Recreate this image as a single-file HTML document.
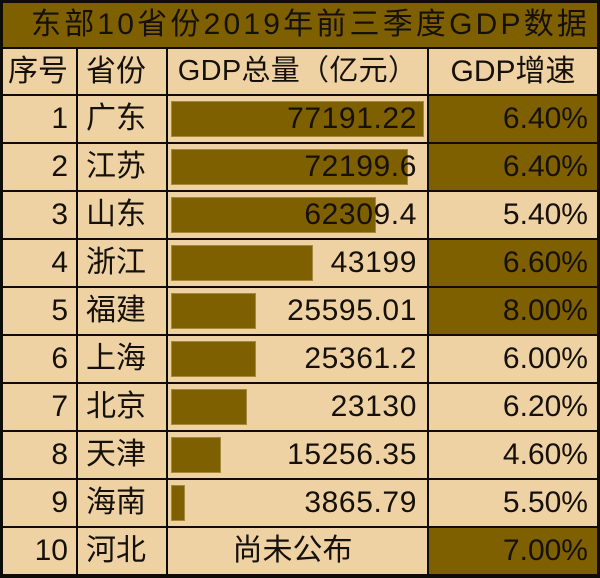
<!DOCTYPE html>
<html><head><meta charset="utf-8"><style>
*{box-sizing:border-box}
body{margin:0;width:600px;height:578px;background:#0e0c06;position:relative;overflow:hidden;font-family:"Liberation Sans","Noto Sans CJK SC",sans-serif;color:#15110a}
.c{position:absolute;background:#EFD2A4;font-size:30px;line-height:46px;white-space:nowrap;height:46px}
.d{background:#7F6000}
.c1{left:3px;width:73px;text-align:right;padding-right:8px}
.c2{left:78px;width:88px;padding-left:8px}
.c3{left:168px;width:259px;text-align:right;padding-right:10px;letter-spacing:0.6px}
.c4{left:429px;width:168px;text-align:right;padding-right:9px}
.bar{position:absolute;left:3px;top:5px;height:36px;background:#7F6000;border:1px solid #a5883f}
.n{position:relative;z-index:1}
.h{height:45px;line-height:45px}
</style></head><body>
<div class="c d" style="left:3px;top:3px;width:594px;height:44px;line-height:44px;padding-left:28px;letter-spacing:3.2px">东部10省份2019年前三季度GDP数据</div>

<div class="c c1 h" style="top:49px">序号</div>
<div class="c c2 h" style="top:49px">省份</div>
<div class="c c3 h" style="top:49px;text-align:center;padding-right:0;font-size:29px;letter-spacing:0.3px">GDP总量（亿元）</div>
<div class="c c4 h" style="top:49px;text-align:center;padding-right:0">GDP增速</div>

<div class="c c1" style="top:96px">1</div>
<div class="c c2" style="top:96px">广东</div>
<div class="c c3" style="top:96px"><div class="bar" style="width:253px"></div><span class="n">77191.22</span></div>
<div class="c c4 d" style="top:96px">6.40%</div>

<div class="c c1" style="top:144px">2</div>
<div class="c c2" style="top:144px">江苏</div>
<div class="c c3" style="top:144px"><div class="bar" style="width:237px"></div><span class="n">72199.6</span></div>
<div class="c c4 d" style="top:144px">6.40%</div>

<div class="c c1" style="top:192px">3</div>
<div class="c c2" style="top:192px">山东</div>
<div class="c c3" style="top:192px"><div class="bar" style="width:205px"></div><span class="n">62309.4</span></div>
<div class="c c4" style="top:192px">5.40%</div>

<div class="c c1" style="top:240px">4</div>
<div class="c c2" style="top:240px">浙江</div>
<div class="c c3" style="top:240px"><div class="bar" style="width:142px"></div><span class="n">43199</span></div>
<div class="c c4 d" style="top:240px">6.60%</div>

<div class="c c1" style="top:288px">5</div>
<div class="c c2" style="top:288px">福建</div>
<div class="c c3" style="top:288px"><div class="bar" style="width:85px"></div><span class="n">25595.01</span></div>
<div class="c c4 d" style="top:288px">8.00%</div>

<div class="c c1" style="top:336px">6</div>
<div class="c c2" style="top:336px">上海</div>
<div class="c c3" style="top:336px"><div class="bar" style="width:85px"></div><span class="n">25361.2</span></div>
<div class="c c4" style="top:336px">6.00%</div>

<div class="c c1" style="top:384px">7</div>
<div class="c c2" style="top:384px">北京</div>
<div class="c c3" style="top:384px"><div class="bar" style="width:76px"></div><span class="n">23130</span></div>
<div class="c c4" style="top:384px">6.20%</div>

<div class="c c1" style="top:432px">8</div>
<div class="c c2" style="top:432px">天津</div>
<div class="c c3" style="top:432px"><div class="bar" style="width:50px"></div><span class="n">15256.35</span></div>
<div class="c c4" style="top:432px">4.60%</div>

<div class="c c1" style="top:480px">9</div>
<div class="c c2" style="top:480px">海南</div>
<div class="c c3" style="top:480px"><div class="bar" style="width:14px"></div><span class="n">3865.79</span></div>
<div class="c c4" style="top:480px">5.50%</div>

<div class="c c1" style="top:528px">10</div>
<div class="c c2" style="top:528px">河北</div>
<div class="c c3" style="top:528px;text-align:center;padding-right:10px;letter-spacing:0">尚未公布</div>
<div class="c c4 d" style="top:528px">7.00%</div>
</body></html>
